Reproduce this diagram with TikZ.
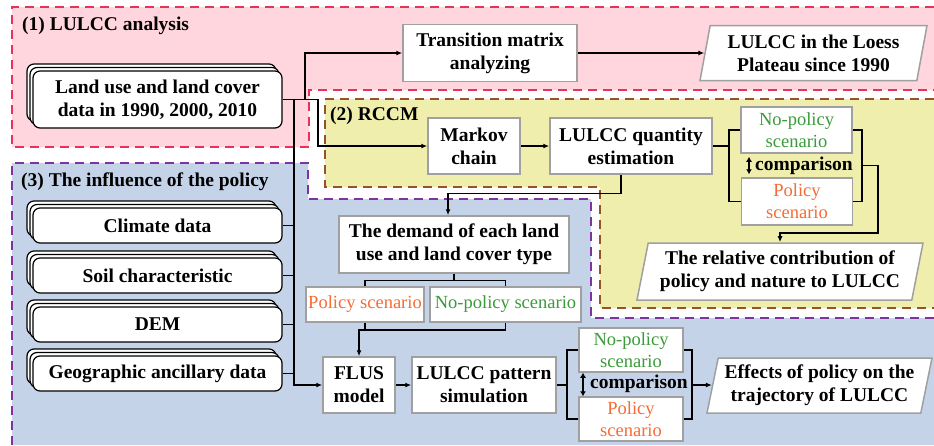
\documentclass[tikz,border=0pt]{standalone}
\usepackage{fontspec}
\setmainfont{Liberation Serif}
\usepackage{tikz}
\usetikzlibrary{shapes.geometric,shadows,arrows.meta}
\usepackage{xcolor}
\definecolor{pinkbg}{RGB}{255,213,222}
\definecolor{pinkline}{RGB}{232,50,92}
\definecolor{yellowbg}{RGB}{240,238,172}
\definecolor{brownline}{RGB}{150,82,40}
\definecolor{bluebg}{RGB}{197,211,232}
\definecolor{purpleline}{RGB}{128,50,160}
\definecolor{boxgray}{RGB}{160,160,160}
\definecolor{npgreen}{RGB}{58,155,58}
\definecolor{porange}{RGB}{245,108,55}
\newcommand{\boldtext}{\bfseries\fontsize{19.5}{23}\selectfont}
\tikzset{
	box/.style={draw=boxgray,fill=white,line width=1.5pt,align=center,inner sep=2pt,font=\boldtext},
	outbox/.style={box,trapezium,trapezium left angle=76,trapezium right angle=104,trapezium stretches body},
	scen/.style={draw=boxgray,fill=white,line width=1.5pt,align=center,inner sep=1pt,font=\fontsize{18.5}{22}\selectfont},
	datastack/.style={draw=black,fill=white,line width=1.2pt,rounded corners=7pt,minimum width=249pt,align=center,font=\boldtext,
		copy shadow={shadow xshift=-6pt,shadow yshift=7pt,fill=white,draw=black,line width=1.2pt},
		copy shadow={shadow xshift=-3pt,shadow yshift=3.5pt,fill=white,draw=black,line width=1.2pt}},
	link/.style={line width=1.2pt},
	arr/.style={line width=1.2pt,-{Latex[length=6pt,width=5pt]}},
	dbl/.style={line width=1.8pt,{Latex[length=5pt,width=6pt]}-{Latex[length=5pt,width=6pt]}},
	zone/.style={line width=1.5pt,dash pattern=on 9pt off 6pt},
	title/.style={anchor=west,inner sep=2pt,font=\boldtext},
	cmp/.style={anchor=west,inner sep=0pt,font=\boldtext}
}
\begin{document}
\begin{tikzpicture}[x=1pt,y=-1pt]
			\useasboundingbox (0,0) rectangle (934,445);
			\fill[white] (0,0) rectangle (934,445);
			\fill[pinkbg] (12,7) -- (934,7) -- (934,90) -- (309,90) -- (309,147) -- (12,147) -- cycle;
			\draw[zone,pinkline] (934,7) -- (12,7) -- (12,147) -- (309,147) -- (309,90) -- (934,90);
			\fill[yellowbg] (325,99) -- (934,99) -- (934,308) -- (600,308) -- (600,187) -- (325,187) -- cycle;
			\draw[zone,brownline] (934,99) -- (325,99) -- (325,187) -- (600,187) -- (600,308) -- (934,308);
			\fill[bluebg] (12,163) -- (308,163) -- (308,199) -- (591,199) -- (591,318) -- (934,318) -- (934,445) -- (12,445) -- cycle;
			\draw[zone,purpleline] (12,445) -- (12,163) -- (308,163) -- (308,199) -- (591,199) -- (591,318) -- (934,318);
			\node[title] (t1) at (20,26) {(1) LULCC analysis};
			\node[title] (t2) at (328,116) {(2) RCCM};
			\node[title] (t3) at (19,182) {(3) The influence of the policy};
			\node[datastack,minimum height=57pt] (data) at (157.5,99.5) {Land use and land cover\\data in 1990, 2000, 2010};
			\foreach \name/\ypos/\txt in {clim/225.5/Climate data,soil/275.5/Soil characteristic,dem/324.5/DEM,geo/373.5/Geographic ancillary data}
				\node[datastack,minimum height=35pt] (\name) at (157.5,\ypos) {\txt};
			\node[box,minimum width=174pt,minimum height=57pt] (trans) at (490,53) {Transition matrix\\analyzing};
			\node[outbox,minimum width=227pt,minimum height=55pt] (loess) at (813.5,53) {LULCC in the Loess\\Plateau since 1990};
			\node[box,minimum width=92pt,minimum height=56pt] (markov) at (474,146) {Markov\\chain};
			\node[box,minimum width=162pt,minimum height=56pt] (quant) at (631,146) {LULCC quantity\\estimation};
			\node[scen,text=npgreen,minimum width=111pt,minimum height=46pt] (np1) at (796.5,130) {No-policy\\scenario};
			\node[scen,text=porange,minimum width=111pt,minimum height=47pt] (p1) at (797,201.5) {Policy\\scenario};
			\node[cmp] (cmp1) at (755,165.5) {comparison};
			\node[outbox,minimum width=286pt,minimum height=57pt] (contrib) at (780,271.5) {The relative contribution of\\policy and nature to LULCC};
			\node[box,minimum width=230pt,minimum height=57pt] (demand) at (454,244.5) {The demand of each land\\use and land cover type};
			\node[scen,text=porange,minimum width=118pt,minimum height=35pt] (ps) at (365,304.5) {Policy scenario};
			\node[scen,text=npgreen,minimum width=151pt,minimum height=35pt] (nps) at (505.5,304.5) {No-policy scenario};
			\node[box,minimum width=72pt,minimum height=56pt] (flus) at (359,385) {FLUS\\model};
			\node[box,minimum width=144pt,minimum height=56pt] (pattern) at (484,385) {LULCC pattern\\simulation};
			\node[scen,text=npgreen,minimum width=104pt,minimum height=44pt] (np2) at (631,350) {No-policy\\scenario};
			\node[scen,text=porange,minimum width=104pt,minimum height=44pt] (p2) at (631,419) {Policy\\scenario};
			\node[cmp] (cmp2) at (590,383.5) {comparison};
			\node[outbox,minimum width=225pt,minimum height=55pt] (effects) at (819.5,385.5) {Effects of policy on the\\trajectory of LULCC};
			\coordinate (s1) at (305,99.5);
			\coordinate (s2) at (318,99.5);
			\coordinate (bus) at (294,99.5);
			\draw[arr] (data.east) -- (s1) |- (trans.west);
			\draw[arr] (data.east) -- (s2) |- (markov.west);
			\draw[arr] (bus) |- (flus.west);
			\foreach \name in {clim,soil,dem,geo}
				\draw[link] (\name.east) -- (\name.east -| bus);
			\draw[arr] (trans.east) -- (trans.east -| loess.west);
			\draw[arr] (markov.east) -- (quant.west);
			\coordinate (b1l) at (729,146);
			\coordinate (b1r) at (862,165.5);
			\coordinate (k1) at (878,233);
			\draw[link] (quant.east) -- (b1l);
			\draw[link] (np1.west) -| (b1l) |- (p1.west);
			\draw[link] (np1.east) -| (b1r) |- (p1.east);
			\draw[arr] (b1r) -| (k1) -| (contrib.north);
			\draw[dbl] ([xshift=-6pt,yshift=-3pt]cmp1.west |- np1.south) -- ([xshift=-6pt,yshift=3pt]cmp1.west |- p1.north);
			\draw[arr] ([xshift=-10pt]quant.south) -- ++(0,19) -| ([xshift=-6pt]demand.north);
			\draw[link] (demand.south) -- ++(0,7) coordinate (d1);
			\draw[link] (ps.north) |- (d1) -| (nps.north);
			\coordinate (d2) at (365,330);
			\draw[link] (ps.south) -- (d2);
			\draw[arr] (nps.south) |- (d2 -| flus.north) -- (flus.north);
			\draw[arr] (flus.east) -- (pattern.west);
			\coordinate (b2l) at (567,385);
			\coordinate (b2r) at (692,385);
			\draw[link] (pattern.east) -- (b2l);
			\draw[link] (np2.west) -| (b2l) |- (p2.west);
			\draw[link] (np2.east) -| (b2r) |- (p2.east);
			\draw[arr] (b2r) -- (b2r -| effects.west);
			\draw[dbl] ([xshift=-7pt]cmp2.west |- np2.south) -- ([xshift=-7pt]cmp2.west |- p2.north);
		\end{tikzpicture}
\end{document}
